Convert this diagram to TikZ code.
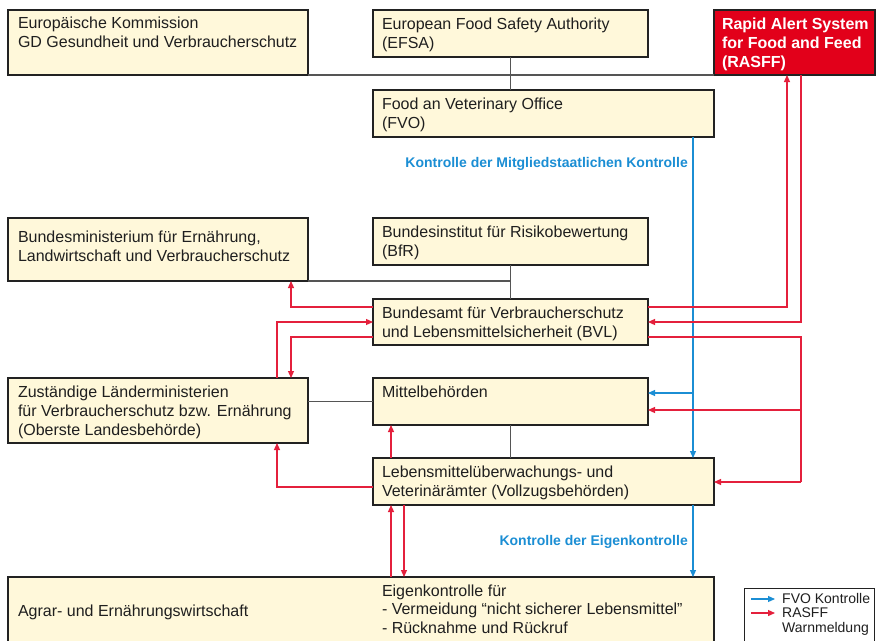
\documentclass[tikz,border=0pt]{standalone}
\usepackage{fontspec}
\setmainfont{Liberation Sans}
\usetikzlibrary{arrows.meta,calc}
\definecolor{boxfill}{HTML}{FFF8DA}
\definecolor{boxline}{HTML}{222222}
\definecolor{connc}{HTML}{555555}
\definecolor{rred}{HTML}{E4203C}
\definecolor{rfill}{HTML}{E2001A}
\definecolor{fblue}{HTML}{1B8ED4}
\tikzset{
  box/.style={draw=boxline, fill=boxfill, line width=1.1pt, anchor=north west, inner sep=0pt, outer sep=0pt},
  redbox/.style={box, fill=rfill},
  txt/.style={anchor=north west, inner sep=0pt, outer sep=0pt, align=left, text=black!88, font=\fontsize{16}{19}\selectfont},
  whitetxt/.style={txt, text=white, font=\bfseries\fontsize{16}{19}\selectfont},
  connline/.style={draw=connc, line width=1.1pt},
  redline/.style={draw=rred, line width=1.2pt},
  redarrow/.style={redline, -{Triangle[length=7pt,width=6pt]}},
  bluearrow/.style={draw=fblue, line width=1.1pt, -{Triangle[length=7pt,width=6pt]}},
  bluelbl/.style={anchor=base east, inner sep=0pt, text=fblue, font=\bfseries\fontsize{14}{16}\selectfont},
  legtxt/.style={anchor=base west, inner sep=0pt, text=black!88, font=\fontsize{14}{15}\selectfont},
  legbox/.style={draw=boxline, fill=white, line width=1pt, anchor=north west, inner sep=0pt, outer sep=0pt}
}
\begin{document}
\begin{tikzpicture}[x=1pt,y=-1pt]
\useasboundingbox (0,0) rectangle (878,640);
\clip (0,0) rectangle (878,640);
\fill[white] (0,0) rectangle (878,640);

% boxes
\node[box, minimum width=300pt, minimum height=65pt] (eu) at (8,10) {};
\node[box, minimum width=275pt, minimum height=47pt] (efsa) at (373,10) {};
\node[redbox, minimum width=161pt, minimum height=65pt] (rasff) at (714,10) {};
\node[box, minimum width=341pt, minimum height=47pt] (fvo) at (373,90) {};
\node[box, minimum width=300pt, minimum height=63pt] (bmel) at (8,218) {};
\node[box, minimum width=275pt, minimum height=47pt] (bfr) at (373,218) {};
\node[box, minimum width=275pt, minimum height=46pt] (bvl) at (373,299) {};
\node[box, minimum width=300pt, minimum height=65pt] (laender) at (8,378) {};
\node[box, minimum width=275pt, minimum height=47pt] (mittel) at (373,378) {};
\node[box, minimum width=341pt, minimum height=47pt] (lebens) at (373,458) {};
\node[box, minimum width=706pt, minimum height=80pt] (agrar) at (8,577) {};
\node[legbox, minimum width=130pt, minimum height=70pt] (leg) at (744,588) {};

% texts
\node[txt] (eut) at ($(eu.north west)+(10,5)$) {\strut Europäische Kommission\\GD Gesundheit und Verbraucherschutz};
\node[txt] (efsat) at ($(efsa.north west)+(9,6)$) {\strut European Food Safety Authority\\(EFSA)};
\node[whitetxt] (rasfft) at ($(rasff.north west)+(8,6)$) {\strut Rapid Alert System\\for Food and Feed\\(RASFF)};
\node[txt] (fvot) at ($(fvo.north west)+(9,6.5)$) {\strut Food an Veterinary Office\\(FVO)};
\node[txt] (bmelt) at ($(bmel.north west)+(10,11)$) {\strut Bundesministerium für Ernährung,\\Landwirtschaft und Verbraucherschutz};
\node[txt] (bfrt) at ($(bfr.north west)+(9,6.5)$) {\strut Bundesinstitut für Risikobewertung\\(BfR)};
\node[txt] (bvlt) at ($(bvl.north west)+(9,6)$) {\strut Bundesamt für Verbraucherschutz\\und Lebensmittelsicherheit (BVL)};
\node[txt] (laendert) at ($(laender.north west)+(10,6)$) {\strut Zuständige Länderministerien\\für Verbraucherschutz bzw. Ernährung\\(Oberste Landesbehörde)};
\node[txt] (mittelt) at ($(mittel.north west)+(9,6)$) {\strut Mittelbehörden};
\node[txt] (lebenst) at ($(lebens.north west)+(9,6.5)$) {\strut Lebensmittelüberwachungs- und\\Veterinärämter (Vollzugsbehörden)};
\node[txt, anchor=base west] (agrart) at (18,616) {Agrar- und Ernährungswirtschaft};
\node[txt, font=\fontsize{16}{18.5}\selectfont] (eigent) at (382,583.5) {\strut Eigenkontrolle für\\- Vermeidung “nicht sicherer Lebensmittel”\\- Rücknahme und Rückruf};

% grey connectors
\draw[connline] (eu.south east) -- (rasff.south west);
\draw[connline] (efsa.south) -- (efsa.south |- fvo.north);
\draw[connline] (bmel.south east) -- (bfr.south |- bmel.south);
\draw[connline] (bfr.south) -- (bvl.north);
\draw[connline] (mittel.west) -- (mittel.west -| laender.east);
\draw[connline] (mittel.south) -- (mittel.south |- lebens.north);

% helper coordinates
\coordinate (xa) at (277,0);
\coordinate (xb) at (291,0);
\coordinate (xc) at (787,0);
\coordinate (xd) at (801,0);
\coordinate (xe) at (693,0);
\coordinate (xf) at (391,0);
\coordinate (xg) at (404,0);
\coordinate (ya) at (0,307);
\coordinate (yb) at (0,322);
\coordinate (yc) at (0,337);
\coordinate (yd) at (0,393);
\coordinate (ye) at (0,410);
\coordinate (yf) at (0,482);
\coordinate (yg) at (0,487);

% blue
\draw[bluearrow] (xe |- fvo.south) -- (xe |- lebens.north);
\draw[bluearrow] (xe |- yd) -- (mittel.east |- yd);
\draw[bluearrow] (xe |- lebens.south) -- (xe |- agrar.north);
\node[bluelbl] (lbl1) at (688,167) {Kontrolle der Mitgliedstaatlichen Kontrolle};
\node[bluelbl] (lbl2) at (688,545) {Kontrolle der Eigenkontrolle};

% red
\draw[redarrow] (bvl.west |- ya) -| (xb |- bmel.south);
\draw[redarrow] (xa |- laender.north) |- (bvl.west |- yb);
\draw[redarrow] (bvl.west |- yc) -| (xb |- laender.north);
\draw[redarrow] (bvl.east |- ya) -| (xc |- rasff.south);
\draw[redarrow] (xd |- rasff.south) |- (bvl.east |- yb);
\draw[redline] (bvl.east |- yc) -| (xd |- yf);
\draw[redarrow] (xd |- yf) -- (lebens.east |- yf);
\draw[redarrow] (xd |- ye) -- (mittel.east |- ye);
\draw[redarrow] (xf |- lebens.north) -- (xf |- mittel.south);
\draw[redarrow] (lebens.west |- yg) -| (xa |- laender.south);
\draw[redarrow] (xf |- agrar.north) -- (xf |- lebens.south);
\draw[redarrow] (xg |- lebens.south) -- (xg |- agrar.north);

% legend
\coordinate (lb1) at ($(leg.north west)+(7,11)$);
\coordinate (lb2) at ($(leg.north west)+(31,11)$);
\coordinate (lr1) at ($(leg.north west)+(7,25)$);
\coordinate (lr2) at ($(leg.north west)+(31,25)$);
\draw[bluearrow] (lb1) -- (lb2);
\draw[redarrow] (lr1) -- (lr2);
\node[legtxt] (leg1) at (782,603) {FVO Kontrolle};
\node[legtxt] (leg2) at (782,617.5) {RASFF};
\node[legtxt] (leg3) at (782,632) {Warnmeldung};
\end{tikzpicture}
\end{document}
